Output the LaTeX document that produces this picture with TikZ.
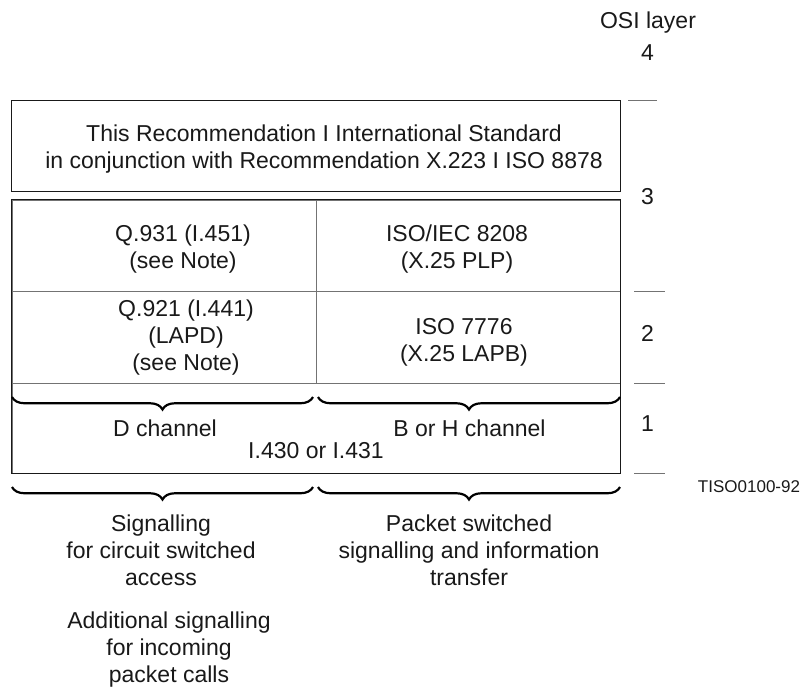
\documentclass[tikz,border=0pt]{standalone}
\usepackage{fontspec}
\setmainfont{Liberation Sans}
\usetikzlibrary{decorations.pathreplacing}
\begin{document}
\begin{tikzpicture}[x=1pt,y=-1pt,
  txt/.style={font=\fontsize{23}{27}\selectfont, align=center, inner sep=0pt, text=black!90},
  small/.style={font=\fontsize{17}{20}\selectfont, inner sep=0pt, text=black!90},
  outerbox/.style={draw=black!90, line width=1pt, inner sep=0pt},
  cellbox/.style={draw=black!55, line width=0.9pt, inner sep=0pt},
  tickline/.style={draw=black!55, line width=0.9pt},
  bracedec/.style={decorate, decoration={brace, mirror, amplitude=12.5pt}, line width=2.2pt, black}]
\useasboundingbox (0,0) rectangle (802,688);
% top box
\node[outerbox, minimum width=609pt, minimum height=91pt] (top) at (315.5,145.5) {};
\node[txt] (toptxt) at (324,149) {This Recommendation I International Standard\\ in conjunction with Recommendation X.223 I ISO 8878};
% cells
\node[cellbox, minimum width=304pt, minimum height=91pt] (c931) at (164,245.5) {};
\node[cellbox, minimum width=304pt, minimum height=91pt] (c8208) at (468,245.5) {};
\node[cellbox, minimum width=304pt, minimum height=92pt] (c921) at (164,337) {};
\node[cellbox, minimum width=304pt, minimum height=92pt] (c7776) at (468,337) {};
\node[cellbox, minimum width=608pt, minimum height=90pt] (l1) at (316,428) {};
\draw[black!90, line width=1pt] (c931.north west) -- (c8208.north east) -- (l1.south east) -- (l1.south west) -- cycle;
% cell texts
\node[txt] (t931) at (183,249) {Q.931 (I.451)\\(see Note)};
\node[txt] (t8208) at (457,249) {ISO/IEC 8208\\(X.25 PLP)};
\node[txt] (t921) at (186,337.5) {Q.921 (I.441)\\(LAPD)\\(see Note)};
\node[txt] (t7776) at (464,342.5) {ISO 7776\\(X.25 LAPB)};
\node[txt] (dch) at (165,428) {D channel};
\node[txt] (bch) at (469.5,428) {B or H channel};
\node[txt] (i430) at (316,451) {I.430 or I.431};
% braces inside layer 1
\coordinate (b1a) at (12,397); \coordinate (b1b) at (313,397);
\coordinate (b2a) at (318,397); \coordinate (b2b) at (620,397);
\draw[bracedec] (b1a) -- (b1b);
\draw[bracedec] (b2a) -- (b2b);
% braces below
\coordinate (b3a) at (12,487); \coordinate (b3b) at (313,487);
\coordinate (b4a) at (318,487); \coordinate (b4b) at (620,487);
\draw[bracedec] (b3a) -- (b3b);
\draw[bracedec] (b4a) -- (b4b);
% layer scale
\node[txt] (osi) at (648,23) {OSI layer};
\node[txt] (n4) at (647.5,53) {4};
\node[txt] (n3) at (647.5,196.5) {3};
\node[txt] (n2) at (647.5,333) {2};
\node[txt] (n1) at (647.5,424) {1};
\coordinate (k1a) at (628,100); \coordinate (k1b) at (657,100);
\coordinate (k2a) at (634,291); \coordinate (k2b) at (665,291);
\coordinate (k3a) at (634,383); \coordinate (k3b) at (665,383);
\coordinate (k4a) at (634,473); \coordinate (k4b) at (665,473);
\draw[tickline] (k1a) -- (k1b);
\draw[tickline] (k2a) -- (k2b);
\draw[tickline] (k3a) -- (k3b);
\draw[tickline] (k4a) -- (k4b);
\node[small] (tiso) at (749,487) {TISO0100-92};
% bottom texts
\node[txt] (sig) at (161,550) {Signalling\\for circuit switched\\access};
\node[txt] (pkt) at (469,550) {Packet switched\\signalling and information\\transfer};
\node[txt] (add) at (169,650) {Additional signalling\\for incoming\\packet calls};
\end{tikzpicture}
\end{document}
